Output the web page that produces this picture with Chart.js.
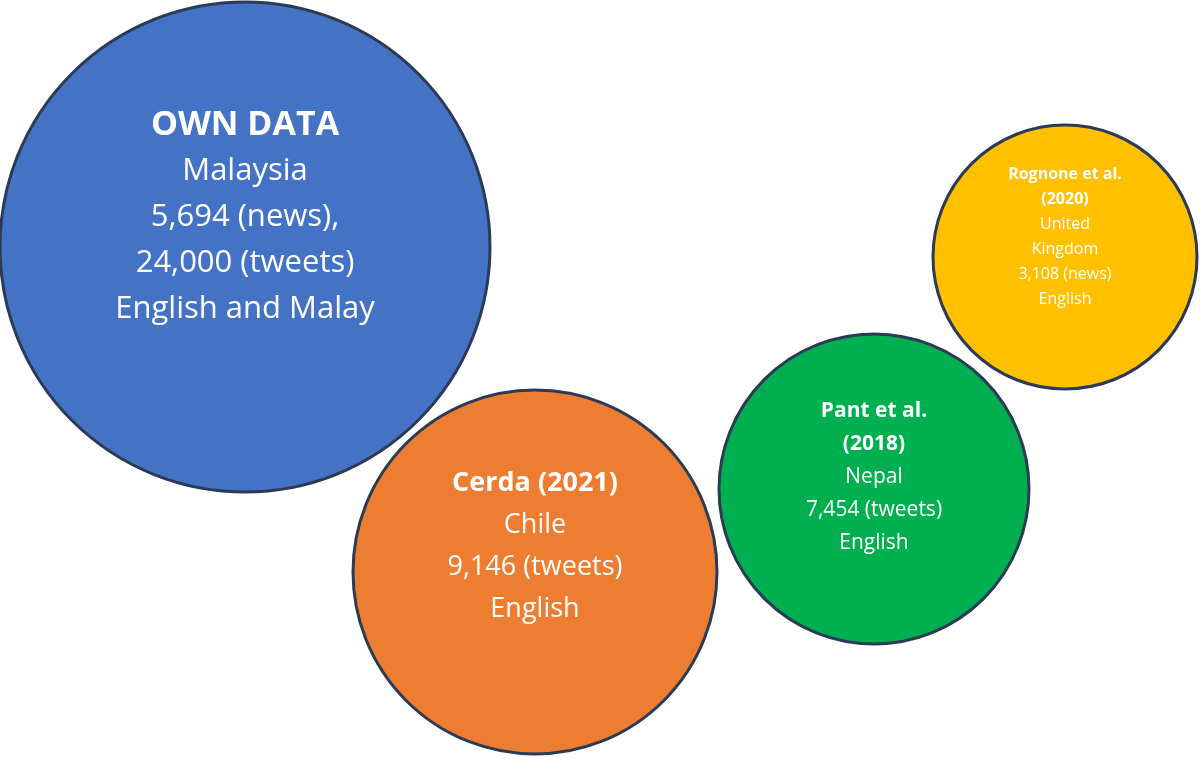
<!DOCTYPE html>
<html>
<head>
<meta charset="utf-8">
<script src="https://cdn.jsdelivr.net/npm/chart.js@4"></script>
<style>
  html, body { margin: 0; padding: 0; background: #fff; }
  #wrap { width: 1200px; height: 766px; }
</style>
</head>
<body>
<div id="wrap"><canvas id="chart"></canvas></div>
<script>
'use strict';

// bubble data (chart units = pixels of the 1200x766 frame)
const studies = ['Own data', 'Cerda (2021)', 'Pant et al. (2018)', 'Rognone et al. (2020)'];
const xValues = [245, 535, 874, 1065];
const yValues = [247, 572, 489, 257];
const rValues = [245, 182, 155, 132];
const colors = ['#4472C4', '#ED7D31', '#00B050', '#FFC000'];

// label lines: [text, bold]
const labels = [
  [['OWN DATA', true], ['Malaysia', false], ['5,694 (news),', false], ['24,000 (tweets)', false], ['English and Malay', false]],
  [['Cerda (2021)', true], ['Chile', false], ['9,146 (tweets)', false], ['English', false]],
  [['Pant et al.', true], ['(2018)', true], ['Nepal', false], ['7,454 (tweets)', false], ['English', false]],
  [['Rognone et al.', true], ['(2020)', true], ['United', false], ['Kingdom', false], ['3,108 (news)', false], ['English', false]]
];
const labelFont = [31, 27, 21, 16];
const labelStep = [46, 42, 33, 25];
const labelShift = [-122, -89, -78, -83];

const bubbleLabels = {
  id: 'bubbleLabels',
  afterDatasetsDraw(chart) {
    const ctx = chart.ctx;
    const meta = chart.getDatasetMeta(0);
    meta.data.forEach((el, i) => {
      ctx.save();
      ctx.fillStyle = '#fff';
      ctx.textAlign = 'center';
      ctx.textBaseline = 'middle';
      labels[i].forEach(([txt, bold], j) => {
        const size = bold && i === 0 ? labelFont[i] + 3 : labelFont[i];
        ctx.font = (bold ? 'bold ' : '') + size + 'px "Open Sans", "Noto Sans", sans-serif';
        ctx.fillText(txt, el.x, el.y + labelShift[i] + j * labelStep[i]);
      });
      ctx.restore();
    });
  }
};

new Chart(document.getElementById('chart'), {
  type: 'bubble',
  data: {
    datasets: [{
      label: 'Studies',
      data: studies.map((s, i) => ({ x: xValues[i], y: yValues[i], r: rValues[i] })),
      backgroundColor: colors,
      borderColor: '#2b3a55',
      borderWidth: 3,
      hoverRadius: 0,
      clip: false
    }]
  },
  options: {
    responsive: true,
    maintainAspectRatio: false,
    animation: false,
    layout: { padding: 0, autoPadding: false },
    plugins: { legend: { display: false }, tooltip: { enabled: false } },
    scales: {
      x: { type: 'linear', min: 0, max: 1200, display: false },
      y: { type: 'linear', min: 0, max: 766, reverse: true, display: false }
    }
  },
  plugins: [bubbleLabels]
});
</script>
</body>
</html>
